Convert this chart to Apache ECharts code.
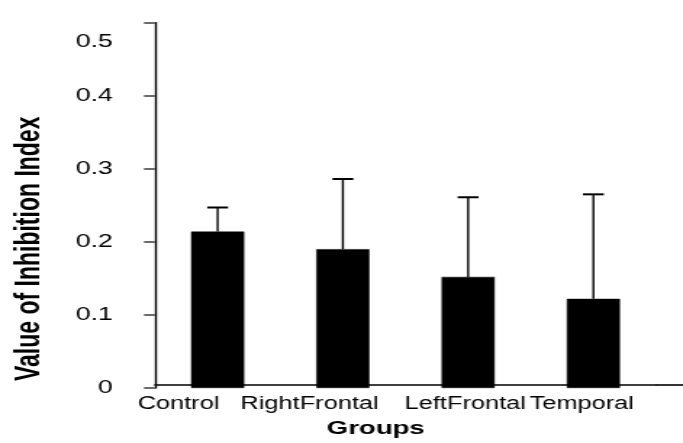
<!DOCTYPE html>
<html>
<head>
<meta charset="utf-8">
<script src="https://cdn.jsdelivr.net/npm/echarts@6/dist/echarts.min.js"></script>
<style>
  html, body { margin: 0; padding: 0; background: #fff; overflow: hidden; width: 683px; height: 443px; }
  /* the figure is drawn narrow and widened horizontally, like the original wide-stretched export */
  #chart { width: 471px; height: 443px; transform: scaleX(1.45); transform-origin: 0 0; }
</style>
</head>
<body>
<div id="chart"></div>
<script>
// Group names on the category axis
const groups = ['Control', 'RightFrontal', 'LeftFrontal', 'Temporal'];
// Mean inhibition index per group
const meanValues = [0.214, 0.190, 0.152, 0.122];
// Upper error (SD) per group
const errorValues = [0.033, 0.096, 0.109, 0.143];
// Value-axis tick values
const yTicks = [0, 0.1, 0.2, 0.3, 0.4, 0.5];

const W = 471, H = 443;
const GRID = { left: 106.9, right: 18.6, top: 22.6, bottom: 55 };
const FONT = '"Liberation Sans", Arial, sans-serif';

const chart = echarts.init(document.getElementById('chart'), null, { renderer: 'canvas' });

const option = {
  backgroundColor: '#fff',
  animation: false,
  grid: GRID,
  xAxis: {
    type: 'category',
    data: groups,
    offset: -3,
    axisLine: { show: true, lineStyle: { color: '#000', width: 1.6 } },
    axisTick: { show: false },
    axisLabel: {
      interval: 0,
      margin: 10,
      fontFamily: FONT,
      fontSize: 17.5,
      color: '#000',
      formatter: (v, i) => '{c' + i + '|' + v + '}',
      rich: {
        c0: { padding: [0, 54, 0, 0] },
        c1: { padding: [0, 46, 0, 0] },
        c2: { padding: [0, 4, 0, 0] },
        c3: { padding: [0, 16, 0, 0] }
      }
    },
    name: 'Groups',
    nameLocation: 'middle',
    nameGap: 34,
    nameTextStyle: {
      fontFamily: FONT,
      fontWeight: 'bold',
      fontSize: 19,
      color: '#000',
      padding: [0, 41, 0, 0]
    }
  },
  yAxis: {
    type: 'value',
    min: yTicks[0],
    max: yTicks[yTicks.length - 1],
    interval: 0.1,
    axisLine: { show: true, lineStyle: { color: '#000', width: 1.4 } },
    axisTick: { show: true, inside: false, length: 7.6, lineStyle: { color: '#6b6b6b', width: 2 } },
    splitLine: { show: false },
    axisLabel: {
      margin: 29,
      fontFamily: FONT,
      fontSize: 18.5,
      color: '#000',
      formatter: v => {
        const s = String(+v.toFixed(1));
        return v >= 0.5 ? '{t|' + s + '}' : s;
      },
      rich: { t: { padding: [38, 0, 0, 0] } }
    },
    name: 'Value of Inhibition Index',
    nameLocation: 'middle',
    nameGap: 74.5,
    nameTextStyle: {
      fontFamily: FONT,
      fontWeight: 'bold',
      fontSize: 23,
      color: '#000',
      padding: [0, 87, 0, 0]
    }
  },
  series: [
    {
      type: 'bar',
      data: meanValues,
      barWidth: 36.6,
      itemStyle: { color: '#000', borderColor: '#000', borderWidth: 0.5 },
      z: 2
    },
    {
      type: 'custom',
      data: groups.map((g, i) => [i, meanValues[i], errorValues[i]]),
      encode: { x: 0, y: 1 },
      z: 3,
      renderItem: (params, api) => {
        const x = api.value(0);
        const m = api.value(1);
        const e = api.value(2);
        const base = api.coord([x, m]);
        const top = api.coord([x, m + e]);
        const half = 7.2;
        return {
          type: 'group',
          children: [
            { type: 'line', shape: { x1: base[0], y1: base[1], x2: top[0], y2: top[1] },
              style: { stroke: '#000', lineWidth: 1.4 } },
            { type: 'line', shape: { x1: top[0] - half, y1: top[1], x2: top[0] + half, y2: top[1] },
              style: { stroke: '#000', lineWidth: 2 } }
          ]
        };
      }
    }
  ],
  graphic: [
    {
      // the horizontal axis line runs on to the right edge of the figure
      type: 'line',
      silent: true,
      shape: { x1: W - GRID.right, y1: H - GRID.bottom - 3, x2: W, y2: H - GRID.bottom - 3 },
      style: { stroke: '#000', lineWidth: 1.6 }
    }
  ]
};

chart.setOption(option);
</script>
</body>
</html>
